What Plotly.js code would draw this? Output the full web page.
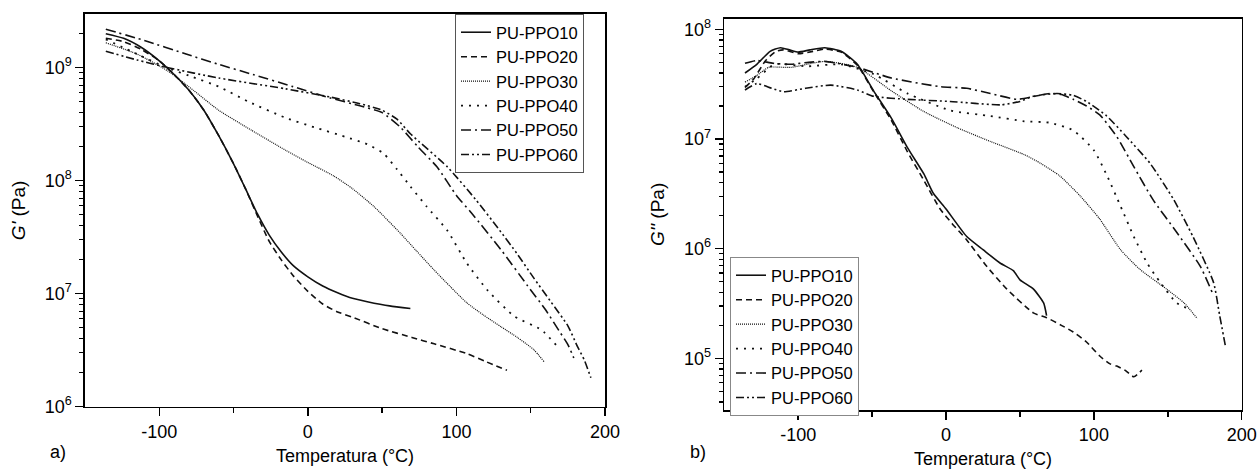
<!DOCTYPE html>
<html>
<head>
<meta charset="utf-8">
<script src="https://cdn.plot.ly/plotly-3.0.1.min.js"></script>
<style>html,body{margin:0;padding:0;background:#fff;}#chart{width:1258px;height:469px;}</style>
</head>
<body>
<div id="chart"></div>
<script>
// ---------- data: storage modulus G' (panel a) ----------
const seriesNames = ["PU-PPO10","PU-PPO20","PU-PPO30","PU-PPO40","PU-PPO50","PU-PPO60"];

const gp10_T = [-136,-124,-112,-100,-90,-80,-70,-60,-50,-42,-34,-26,-18,-10,0,10,20,30,40,55,69];
const gp10_G = [2.0e9,1.82e9,1.51e9,1.15e9,8.7e8,6.3e8,4.2e8,2.5e8,1.41e8,8.5e7,5.1e7,3.3e7,2.35e7,1.78e7,1.41e7,1.17e7,1.02e7,9.1e6,8.5e6,7.8e6,7.4e6];

const gp20_T = [-136,-124,-112,-100,-90,-80,-70,-60,-50,-42,-34,-26,-18,-10,0,10,20,30,50,70,85,107,120,134];
const gp20_G = [1.82e9,1.70e9,1.45e9,1.15e9,8.7e8,6.3e8,4.2e8,2.5e8,1.41e8,8.5e7,4.9e7,2.9e7,2.0e7,1.45e7,1.05e7,8.1e6,6.9e6,6.2e6,4.9e6,4.1e6,3.6e6,2.95e6,2.5e6,2.1e6];

const gp30_T = [-136,-115,-94,-77,-60,-38,-15,0,17.5,30,44.5,55,62.5,73,85,96,107,118,130,141,152,159];
const gp30_G = [1.66e9,1.32e9,9.3e8,6.3e8,4.2e8,2.8e8,1.86e8,1.45e8,1.1e8,8.5e7,5.9e7,4.3e7,3.4e7,2.4e7,1.62e7,1.15e7,8.3e6,6.5e6,5.1e6,4.1e6,3.2e6,2.5e6];

const gp40_T = [-136,-115,-95,-80,-60,-40,-15,5,25,40,51,60,69,80,94,107,121,139,157,169];
const gp40_G = [1.78e9,1.32e9,1.0e9,8.5e8,6.8e8,5.0e8,3.6e8,2.95e8,2.45e8,2.1e8,1.74e8,1.26e8,8.9e7,5.9e7,3.6e7,1.86e7,1.07e7,6.3e6,4.8e6,3.3e6];

const gp50_T = [-136,-110,-82,-60,-37,-10,15,35,50,62,74,87,100,110,130,148,160,170,175,179];
const gp50_G = [2.19e9,1.74e9,1.32e9,1.07e9,8.7e8,6.8e8,5.4e8,4.6e8,4.0e8,3.0e8,2.0e8,1.32e8,7.4e7,5.2e7,2.45e7,1.17e7,7.2e6,4.5e6,3.55e6,2.7e6];

const gp60_T = [-136,-115,-94,-60,-15,15,35,50,60,69,94,113,128,141,152,163.5,175,181.5,186,190.5];
const gp60_G = [1.40e9,1.17e9,1.0e9,8.1e8,6.5e8,5.5e8,4.8e8,4.2e8,3.5e8,2.6e8,1.32e8,6.8e7,3.8e7,2.24e7,1.38e7,8.5e6,5.2e6,3.4e6,2.6e6,1.8e6];

// ---------- data: loss modulus G'' (panel b) ----------
const gpp10_T = [-136,-128,-119,-112,-106,-100,-92,-82,-71,-60,-49,-37,-26,-15,-8.6,0,14,25,36.5,45.5,50,59,66,68];
const gpp10_G = [4.0e7,4.8e7,6.3e7,6.8e7,6.5e7,6.2e7,6.5e7,6.8e7,6.3e7,4.8e7,2.75e7,1.55e7,8.3e6,4.8e6,3.2e6,2.3e6,1.29e6,9.8e5,7.4e5,6.3e5,5.2e5,4.3e5,3.2e5,2.45e5];

const gpp20_T = [-136,-130,-122,-115,-110,-100,-90,-82,-71,-60,-49,-37,-26,-15,-4,4,14,27.5,41,59,68,78,86,95,104,111,115.5,121,127,132.5];
const gpp20_G = [2.95e7,3.55e7,5.2e7,6.3e7,6.5e7,6.0e7,6.3e7,6.6e7,6.2e7,4.7e7,2.7e7,1.48e7,7.6e6,4.2e6,2.3e6,1.7e6,1.2e6,6.9e5,4.3e5,2.6e5,2.35e5,2.0e5,1.74e5,1.41e5,1.05e5,8.9e4,8.5e4,7.8e4,6.8e4,7.8e4];

const gpp30_T = [-136,-128,-120,-105,-82,-60,-37,-15,8,30,53,64,77,91,104,118,131,149,161,170];
const gpp30_G = [3.3e7,3.8e7,4.5e7,4.5e7,5.1e7,4.5e7,2.75e7,1.78e7,1.26e7,9.5e6,7.2e6,6.0e6,4.6e6,3.0e6,1.86e6,9.8e5,6.5e5,4.3e5,3.2e5,2.3e5];

const gpp40_T = [-136,-128,-116,-94,-71,-49,-26,3,30,53,70,86,100,109,118,127,136,145,156,165];
const gpp40_G = [3.0e7,3.55e7,4.8e7,4.6e7,4.8e7,3.9e7,2.6e7,1.82e7,1.62e7,1.45e7,1.41e7,1.2e7,7.9e6,4.6e6,2.45e6,1.29e6,7.4e5,4.9e5,3.2e5,2.8e5];

const gpp50_T = [-136,-128,-117,-105,-93,-82,-60,-37,-4,14,30,48,60,70,78,86,95,104,115.5,127,140,156,172,180];
const gpp50_G = [4.9e7,5.2e7,4.9e7,4.8e7,5.0e7,5.1e7,4.5e7,3.6e7,3.0e7,2.9e7,2.6e7,2.3e7,2.45e7,2.6e7,2.55e7,2.3e7,2.0e7,1.66e7,1.05e7,5.6e6,2.8e6,1.41e6,6.9e5,4.0e5];

const gpp60_T = [-136,-128,-118,-110,-95,-78,-60,-49,-26,2.7,37,50,59,75,86,95,108.7,122,138,154,167,181,185,189];
const gpp60_G = [2.8e7,3.2e7,2.9e7,2.7e7,2.9e7,3.1e7,2.8e7,2.45e7,2.3e7,2.2e7,2.05e7,2.2e7,2.45e7,2.6e7,2.5e7,2.2e7,1.62e7,1.05e7,6.0e6,2.8e6,1.29e6,4.9e5,2.5e5,1.29e5];

// ---------- tick labels ----------
const xTickVals = [-100, 0, 100, 200];
const xTickText = ["-100", "0", "100", "200"];
const yaTickVals = [1e6, 1e7, 1e8, 1e9];
const yaTickText = ["10<sup>6</sup>", "10<sup>7</sup>", "10<sup>8</sup>", "10<sup>9</sup>"];
const ybTickVals = [1e5, 1e6, 1e7, 1e8];
const ybTickText = ["10<sup>5</sup>", "10<sup>6</sup>", "10<sup>7</sup>", "10<sup>8</sup>"];

// ---------- styling ----------
const dashes = ["solid", "6px,4px", "1px,1px", "2px,6px", "10px,4px,2px,4px", "8px,3px,2px,3px,2px,3px"];
const widths = [1.6, 1.6, 1.2, 1.8, 1.6, 1.6];
const FONT = "Liberation Sans, Arial, sans-serif";

function minorLogTicks(lo, hi) {
  const out = [];
  for (let e = lo; e < hi; e++) for (let m = 2; m <= 9; m++) out.push(m * Math.pow(10, e));
  return out;
}

const leftT = [gp10_T, gp20_T, gp30_T, gp40_T, gp50_T, gp60_T];
const leftG = [gp10_G, gp20_G, gp30_G, gp40_G, gp50_G, gp60_G];
const rightT = [gpp10_T, gpp20_T, gpp30_T, gpp40_T, gpp50_T, gpp60_T];
const rightG = [gpp10_G, gpp20_G, gpp30_G, gpp40_G, gpp50_G, gpp60_G];

const traces = [];
for (let i = 0; i < 6; i++) {
  traces.push({
    x: leftT[i], y: leftG[i], type: "scatter", mode: "lines", name: seriesNames[i],
    xaxis: "x", yaxis: "y", legend: "legend",
    line: {color: "#111", width: widths[i], dash: dashes[i], shape: "spline", smoothing: 0.55}
  });
}
for (let i = 0; i < 6; i++) {
  traces.push({
    x: rightT[i], y: rightG[i], type: "scatter", mode: "lines", name: seriesNames[i],
    xaxis: "x2", yaxis: "y2", legend: "legend2",
    line: {color: "#111", width: widths[i], dash: dashes[i], shape: "spline", smoothing: 0.55}
  });
}

const W = 1258, H = 469;
function xd(a, b) { return [a / W, b / W]; }
function yd(top, bottom) { return [1 - bottom / H, 1 - top / H]; }

const xBase = {
  range: [-150, 200], tickmode: "array", tickvals: xTickVals, ticktext: xTickText,
  ticks: "outside", ticklen: 8, tickwidth: 1.5, tickcolor: "#000",
  showline: true, linecolor: "#000", linewidth: 1.6, mirror: true,
  showgrid: false, zeroline: false,
  minor: {tickmode: "array", tickvals: [-50, 50, 150], ticks: "outside", ticklen: 5, tickwidth: 1.5, tickcolor: "#000", showgrid: false},
  tickfont: {family: FONT, size: 18, color: "#000"},
  title: {text: "Temperatura (°C)", font: {family: FONT, size: 18, color: "#000"}, standoff: 8}
};

const yBase = {
  type: "log", ticks: "outside", ticklen: 8, tickwidth: 1.5, tickcolor: "#000",
  showline: true, linecolor: "#000", linewidth: 1.6, mirror: true,
  showgrid: false, zeroline: false, tickmode: "array",
  tickfont: {family: FONT, size: 18, color: "#000"}
};

const legendCommon = {
  xanchor: "left", yanchor: "top", bgcolor: "#fff", borderwidth: 1,
  font: {family: FONT, size: 16.5, color: "#000"}, tracegroupgap: 0, itemwidth: 30
};

const layout = {
  width: W, height: H,
  margin: {l: 0, r: 0, t: 0, b: 0},
  paper_bgcolor: "#fff", plot_bgcolor: "#fff",
  font: {family: FONT, size: 18, color: "#000"},
  xaxis: Object.assign({}, xBase, {domain: xd(85, 605), anchor: "y"}),
  xaxis2: Object.assign({}, xBase, {domain: xd(724.3, 1241.7), anchor: "y2"}),
  yaxis: Object.assign({}, yBase, {
    domain: yd(14, 406.7), anchor: "x", range: [6, 9.475],
    tickvals: yaTickVals, ticktext: yaTickText,
    minor: {tickmode: "array", tickvals: minorLogTicks(6, 10), ticks: "outside", ticklen: 4, tickwidth: 1.2, tickcolor: "#000", showgrid: false},
    title: {text: "<i>G'</i> (Pa)", font: {family: FONT, size: 19, color: "#000"}, standoff: 14}
  }),
  yaxis2: Object.assign({}, yBase, {
    domain: yd(18.7, 410), anchor: "x2", range: [4.529, 8.097],
    tickvals: ybTickVals, ticktext: ybTickText,
    minor: {tickmode: "array", tickvals: minorLogTicks(4, 9), ticks: "outside", ticklen: 4, tickwidth: 1.2, tickcolor: "#000", showgrid: false},
    title: {text: "<i>G''</i> (Pa)", font: {family: FONT, size: 19, color: "#000"}, standoff: 14}
  }),
  legend: Object.assign({}, legendCommon, {x: 455 / W, y: 1 - 14 / H, bordercolor: "#555"}),
  legend2: Object.assign({}, legendCommon, {x: 730 / W, y: 1 - 257 / H, bordercolor: "#888"}),
  showlegend: true,
  annotations: [
    {text: "a)", xref: "paper", yref: "paper", x: 58 / W, y: 1 - 452 / H, xanchor: "center", yanchor: "middle", showarrow: false, font: {family: FONT, size: 18, color: "#000"}},
    {text: "b)", xref: "paper", yref: "paper", x: 698 / W, y: 1 - 452 / H, xanchor: "center", yanchor: "middle", showarrow: false, font: {family: FONT, size: 18, color: "#000"}}
  ]
};

Plotly.newPlot("chart", traces, layout, {staticPlot: true, displayModeBar: false});
</script>
</body>
</html>
